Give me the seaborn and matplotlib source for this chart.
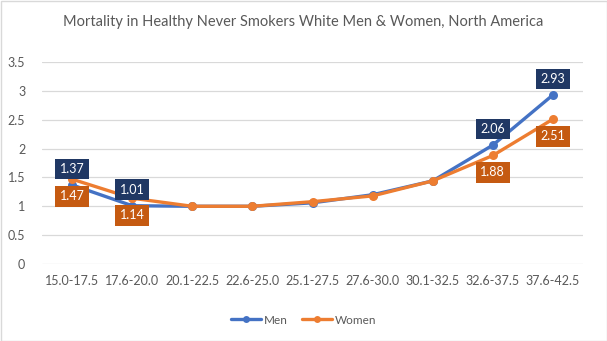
import matplotlib
matplotlib.use("Agg")
import matplotlib.pyplot as plt
import seaborn as sns
import pandas as pd

categories = ["15.0-17.5", "17.6-20.0", "20.1-22.5", "22.6-25.0", "25.1-27.5",
              "27.6-30.0", "30.1-32.5", "32.6-37.5", "37.6-42.5"]
men = [1.37, 1.01, 1.00, 1.00, 1.06, 1.20, 1.44, 2.06, 2.93]
women = [1.47, 1.14, 1.00, 1.00, 1.08, 1.18, 1.44, 1.88, 2.51]
labelled_idx = [0, 1, 7, 8]
y_ticks = [0, 0.5, 1, 1.5, 2, 2.5, 3, 3.5]
y_tick_labels = ["0", "0.5", "1", "1.5", "2", "2.5", "3", "3.5"]

sns.set_theme(style="white")
plt.rcParams["font.family"] = ["Lato", "DejaVu Sans"]

df = pd.DataFrame({
    "pos": list(range(len(categories))) * 2,
    "value": men + women,
    "series": ["Men"] * len(men) + ["Women"] * len(women),
})

palette = {"Men": "#4472C4", "Women": "#ED7D31"}
box_colors = {"Men": "#203864", "Women": "#C55A11"}
text_gray = "#595959"

fig = plt.figure(figsize=(6.07, 3.41), dpi=100)
ax = fig.add_axes([42 / 607, 77 / 341, 541 / 607, 202 / 341])

sns.lineplot(data=df, x="pos", y="value", hue="series", palette=palette,
             marker="o", markersize=6.5, markeredgewidth=0, linewidth=2.4,
             ax=ax, legend=False)

ax.set_xlim(-0.5, len(categories) - 0.5)
ax.set_ylim(0, 3.5)
ax.set_xticks(range(len(categories)))
ax.set_xticklabels(categories)
ax.set_yticks(y_ticks)
ax.set_yticklabels(y_tick_labels)
ax.tick_params(axis="both", labelsize=9, colors=text_gray, length=0, pad=8)
ax.tick_params(axis="y", pad=12)
ax.set_xlabel("")
ax.set_ylabel("")
ax.grid(axis="y", color="#D9D9D9", linewidth=0.9)
ax.set_axisbelow(True)
for s in ax.spines.values():
    s.set_visible(False)

# value labels: men above the point, women below
for name, vals, dy in (("Men", men, 16), ("Women", women, -17)):
    for i in labelled_idx:
        ax.annotate(f"{vals[i]:.2f}", (i, vals[i]), xytext=(0, dy),
                    textcoords="offset pixels",
                    ha="center", va="center", color="white", fontsize=9,
                    bbox=dict(boxstyle="square,pad=0.35", fc=box_colors[name], ec="none"))

fig.suptitle("Mortality in Healthy Never Smokers White Men & Women, North America",
             x=0.5, y=1 - 22 / 341, va="center", fontsize=10.5, color=text_gray)

handles = [plt.Line2D([], [], color=palette[k], marker="o", markersize=5,
                      markeredgewidth=0, linewidth=2.4) for k in ("Men", "Women")]
fig.legend(handles, ["Men", "Women"], loc="center", bbox_to_anchor=(0.5, 1 - 320 / 341),
           ncol=2, frameon=False, fontsize=8.5, labelcolor=text_gray,
           handlelength=2.6, handletextpad=0.2, columnspacing=1.2)

fig.patches.append(plt.Rectangle((0.5 / 607, 0.5 / 341), 1 - 1 / 607, 1 - 1 / 341,
                                 transform=fig.transFigure, fill=False,
                                 ec="#D9D9D9", lw=1))

fig.savefig("out.png", dpi=100, facecolor="white")
